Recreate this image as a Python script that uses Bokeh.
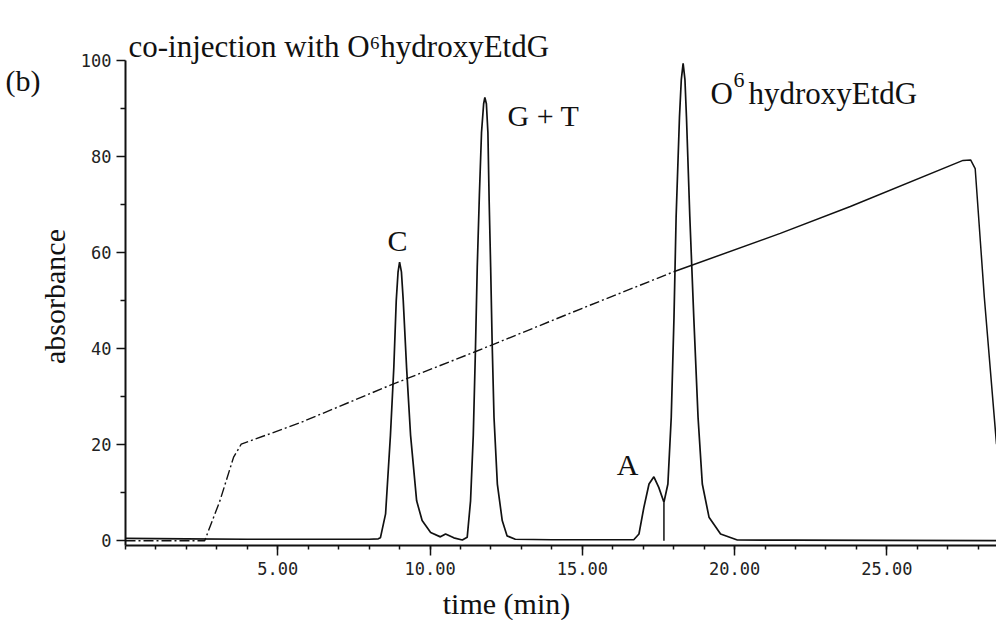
from bokeh.plotting import figure
from bokeh.models import Label, FixedTicker, Range1d
from bokeh.embed import file_html
from bokeh.resources import INLINE

# ---------------- data ----------------
# chromatogram trace: time (min) and absorbance
time_min = [0.0, 2.0, 4.0, 6.0, 8.0, 8.3,
            8.37, 8.54, 8.70, 8.81, 8.89, 8.95, 9.00, 9.06, 9.12, 9.23, 9.36, 9.56, 9.74,
            10.02, 10.34, 10.51, 10.78, 11.06,
            11.22, 11.33, 11.42, 11.49, 11.55, 11.62, 11.69, 11.76, 11.80, 11.85, 11.90,
            11.94, 11.99, 12.04, 12.10, 12.21, 12.37, 12.53, 12.80,
            14.0, 16.0, 16.69,
            16.86, 17.02, 17.19, 17.35, 17.51, 17.68, 17.81, 17.92, 18.01, 18.08, 18.19,
            18.25, 18.31, 18.37, 18.42, 18.53, 18.66, 18.80, 18.94, 19.16, 19.54, 20.09,
            22.0, 25.0, 28.6]
absorbance = [0.5, 0.4, 0.3, 0.3, 0.3, 0.4,
              0.6, 5.6, 22.0, 36.0, 50.0, 56.0, 58.0, 56.0, 50.0, 36.0, 22.0, 8.3, 4.2,
              1.7, 0.8, 1.4, 0.6, 0.15,
              0.7, 8.3, 22.0, 39.6, 57.0, 72.0, 85.0, 91.0, 92.3, 91.0, 85.0,
              71.0, 57.0, 41.0, 25.7, 11.8, 4.2, 1.0, 0.3,
              0.2, 0.2, 0.2,
              1.4, 6.9, 11.8, 13.3, 11.1, 8.0, 11.8, 25.7, 46.5, 67.4, 88.2,
              96.0, 99.4, 96.0, 88.2, 67.4, 46.5, 25.7, 11.8, 4.9, 1.4, 0.15,
              0.1, 0.05, 0.0]

# solvent gradient trace
gradient_t = [0.0, 2.6, 3.1, 3.55, 3.8, 5.75, 8.7, 11.5, 15.0, 18.0,
              21.5, 23.8, 27.5, 27.75, 27.9, 28.2, 28.6]
gradient_v = [0.0, 0.0, 8.3, 17.4, 20.1, 24.6, 32.4, 39.4, 48.4, 56.0,
              64.0, 69.6, 79.2, 79.3, 77.5, 50.7, 20.1]
gradient_split = 9  # index of the point where the trace turns solid

# integration drop line between A and O6hydroxyEtdG
drop_t = [17.68, 17.68]
drop_v = [0.0, 8.0]

# axes
x_major = [5, 10, 15, 20, 25]
x_tick_labels = ["5.00", "10.00", "15.00", "20.00", "25.00"]
x_minor = [0, 1, 2, 3, 4, 5, 6, 7, 8, 9, 10, 11, 12, 13, 14, 15, 16, 17, 18,
           19, 20, 21, 22, 23, 24, 25, 26, 27, 28]
y_major = [0, 20, 40, 60, 80, 100]
y_tick_labels = ["0", "20", "40", "60", "80", "100"]
y_minor = [10, 30, 50, 70, 90]

# ---------------- layout ----------------
W, H = 996, 620
LEFT, RIGHT, TOP, BOTTOM = 125, 0, 60, 75
X0, X1 = 0.0, 28.6
Y0, Y1 = -1.0, 100.0
fw = W - LEFT - RIGHT
fh = H - TOP - BOTTOM


def px2x(px):
    return X0 + (px - LEFT) * (X1 - X0) / fw


def py2y(py):
    return Y1 - (py - TOP) * (Y1 - Y0) / fh


p = figure(width=W, height=H, x_range=Range1d(X0, X1), y_range=Range1d(Y0, Y1),
           output_backend="svg", toolbar_location=None,
           min_border_left=LEFT, min_border_right=RIGHT,
           min_border_top=TOP, min_border_bottom=BOTTOM)
p.outline_line_color = None
p.xgrid.visible = False
p.ygrid.visible = False
p.background_fill_color = "white"
p.border_fill_color = "white"

INK = "#111111"

# traces
p.line(gradient_t[:gradient_split + 1], gradient_v[:gradient_split + 1],
       line_color=INK, line_width=1.4, line_dash="10 3 2 3")
p.line(gradient_t[gradient_split:], gradient_v[gradient_split:],
       line_color=INK, line_width=1.5)
p.line(time_min, absorbance, line_color=INK, line_width=1.7)
p.line(drop_t, drop_v, line_color=INK, line_width=1.5)

# axes styling
for ax in (p.xaxis[0], p.yaxis[0]):
    ax.axis_line_color = INK
    ax.axis_line_width = 2
    ax.major_tick_line_color = INK
    ax.major_tick_line_width = 1.5
    ax.minor_tick_line_color = INK
    ax.minor_tick_line_width = 1.5
    ax.major_tick_in = 0
    ax.minor_tick_in = 0
    ax.major_label_text_font = "DejaVu Sans Mono"
    ax.major_label_text_font_size = "17px"
    ax.major_label_text_color = "#222222"

p.xaxis.ticker = FixedTicker(ticks=x_major, minor_ticks=x_minor)
p.xaxis.major_label_overrides = {t: s for t, s in zip(x_major, x_tick_labels)}
p.xaxis.major_tick_out = 10
p.xaxis.minor_tick_out = 4
p.xaxis.major_label_standoff = 6

p.yaxis.ticker = FixedTicker(ticks=y_major, minor_ticks=y_minor)
p.yaxis.major_label_overrides = {t: s for t, s in zip(y_major, y_tick_labels)}
p.yaxis.major_tick_out = 9
p.yaxis.minor_tick_out = 5
p.yaxis.major_label_standoff = 5
p.yaxis.major_label_orientation = "horizontal"

SERIF = "Liberation Serif"


def add_text(text, px, py, size="30px", align="left", baseline="alphabetic", angle=0.0):
    """Text inside the plot frame, placed in data units."""
    p.add_layout(Label(x=px2x(px), y=py2y(py), text=text, text_font=SERIF,
                       text_font_size=size, text_align=align, text_baseline=baseline,
                       text_color=INK, angle=angle))


def add_outer_text(text, px, py, side, size="30px", align="left", baseline="alphabetic",
                   angle=0.0):
    """Text outside the plot frame, placed in canvas pixels inside a side panel."""
    p.add_layout(Label(x=px, y=py, x_units="canvas", y_units="canvas", text=text,
                       text_font=SERIF, text_font_size=size, text_align=align,
                       text_baseline=baseline, text_color=INK, angle=angle), side)


# title
add_outer_text("co-injection with O\u2076hydroxyEtdG", 128, 46, "above", size="31px")

# panel letter
add_outer_text("(b)", 5, 80, "left")

# axis titles
add_outer_text("absorbance", 54, 296, "left", align="center", angle=1.5707963)
add_outer_text("time (min)", 506, 603, "below", align="center")

# peak labels
add_text("C", 397, 240, align="center")
add_text("G + T", 507, 115)
add_text("A", 627, 464, align="center")
add_text("O", 710, 93, size="31px")
add_text("6", 733, 79, size="22px")
add_text("hydroxyEtdG", 748, 93, size="31px")

open("out.html", "w").write(file_html(p, INLINE))
